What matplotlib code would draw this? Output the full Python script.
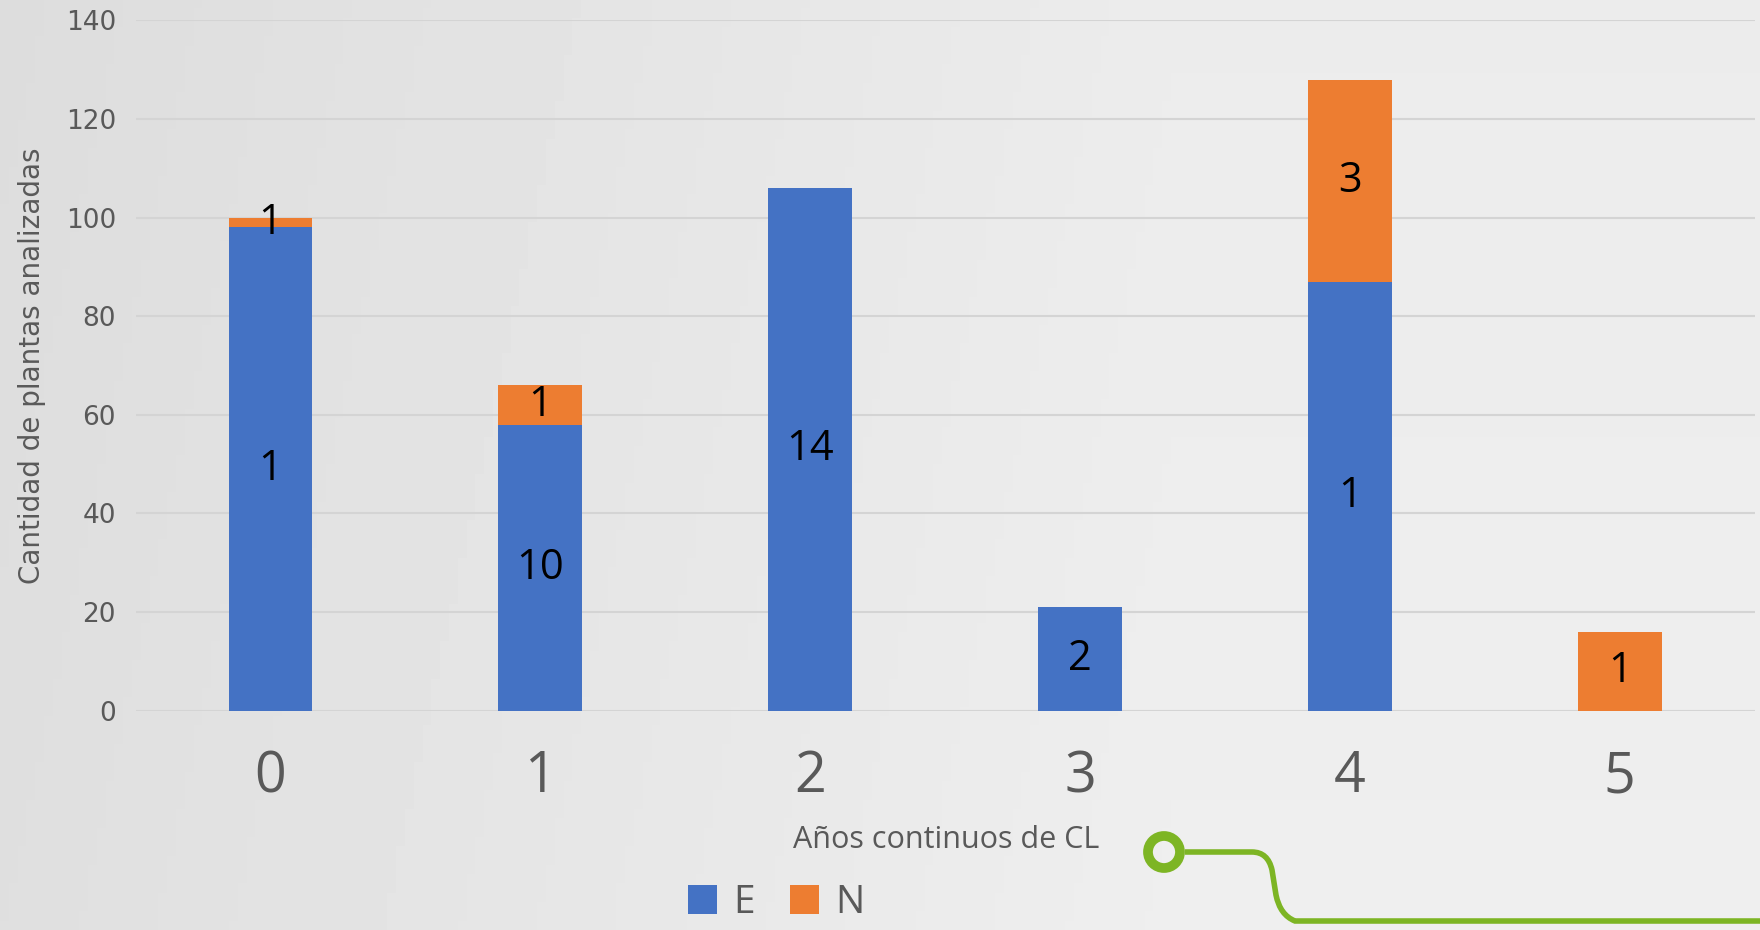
import numpy as np
import matplotlib
matplotlib.use("Agg")
import matplotlib.pyplot as plt
from matplotlib.patches import Circle, PathPatch
from matplotlib.path import Path

# data
years = ["0", "1", "2", "3", "4", "5"]
e_values = [98, 58, 106, 21, 87, 0]
n_values = [2, 8, 0, 0, 41, 16]
e_labels = ["1", "10", "14", "2", "1", ""]
n_labels = ["1", "1", "", "", "3", "1"]
y_ticks = [0, 20, 40, 60, 80, 100, 120, 140]

blue = "#4472C4"
orange = "#ED7D31"
gray_text = "#595959"

fig = plt.figure(figsize=(17.6, 9.3), dpi=100)

# light gray gradient background
bg = fig.add_axes([0, 0, 1, 1], zorder=-10)
gx = np.linspace(0, 1, 200)
gy = np.linspace(0, 1, 100)
X, Y = np.meshgrid(gx, gy)
shade = 0.865 + 0.06 * np.clip(X * 1.5, 0, 1) + 0.01 * Y
bg.imshow(shade, cmap="gray", vmin=0, vmax=1, aspect="auto",
          extent=[0, 1, 0, 1], origin="upper")
bg.axis("off")

ax = fig.add_axes([0.077, 0.236, 0.920, 0.742])
ax.set_facecolor("none")

x = np.arange(len(years))
bars_e = ax.bar(x, e_values, width=0.31, color=blue, label="E", zorder=3)
bars_n = ax.bar(x, n_values, width=0.31, bottom=e_values, color=orange,
                label="N", zorder=3)

ax.bar_label(bars_e, labels=e_labels, label_type="center",
             fontsize=30, family="Open Sans", color="black")
ax.bar_label(bars_n, labels=n_labels, label_type="center",
             fontsize=30, family="Open Sans", color="black")

ax.set_xlim(-0.5, 5.5)
ax.set_ylim(0, 140)
ax.set_yticks(y_ticks)
ax.set_xticks(x)
ax.set_xticklabels(years, fontsize=40, family="Open Sans", color=gray_text)
ax.tick_params(axis="x", length=0, pad=28)
ax.tick_params(axis="y", length=0, pad=14, labelsize=19, labelcolor=gray_text)
ax.grid(axis="y", color="#d4d4d4", linewidth=1.5, zorder=0)
for s in ax.spines.values():
    s.set_visible(False)

fig.text(0.018, 0.607, "Cantidad de plantas analizadas", rotation=90,
         ha="center", va="center", fontsize=20, color=gray_text)
fig.text(0.5375, 1 - 840 / 930, "Años continuos de CL", ha="center",
         va="center", fontsize=22, color=gray_text, family="Open Sans")

fig.legend(handles=[bars_e, bars_n], labels=["E", "N"], loc="center",
           bbox_to_anchor=(0.441, 0.029), ncol=2, frameon=False,
           labelcolor=gray_text, handlelength=0.75,
           handleheight=0.75, handletextpad=0.42, columnspacing=0.9,
           prop={"family": "Open Sans", "size": 28})

# green decorative connector at the bottom right
deco = fig.add_axes([0, 0, 1, 1], zorder=-5)
deco.set_xlim(0, 1760)
deco.set_ylim(930, 0)
deco.axis("off")
green = "#7DB524"
verts = [(1185, 852), (1252, 852), (1268, 852), (1272, 870),
         (1276, 895), (1280, 915), (1295, 921), (1320, 921), (1760, 921)]
codes = [Path.MOVETO, Path.LINETO, Path.CURVE3, Path.CURVE3,
         Path.LINETO, Path.CURVE3, Path.CURVE3, Path.LINETO, Path.LINETO]
deco.add_patch(PathPatch(Path(verts, codes), facecolor="none",
                         edgecolor=green, linewidth=4))
deco.add_patch(Circle((1164, 852), 16, facecolor="none", edgecolor=green,
                      linewidth=7))

fig.savefig("out.png", dpi=100)
